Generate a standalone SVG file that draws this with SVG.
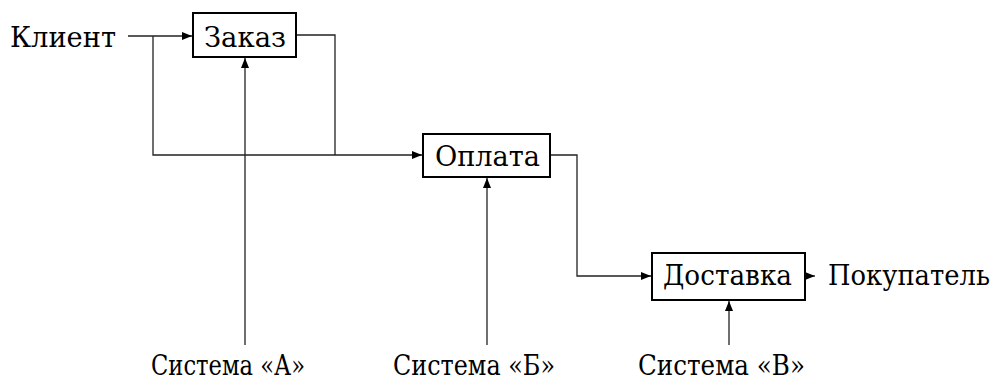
<svg xmlns="http://www.w3.org/2000/svg" width="996" height="381" viewBox="0 0 996 381">
<defs>
<marker id="ah" viewBox="0 0 10 8" refX="10" refY="4" markerWidth="10" markerHeight="8" markerUnits="userSpaceOnUse" orient="auto">
<path d="M0,0 L10,4 L0,8 Z" fill="#000"/>
</marker>
</defs>
<style>
.box{fill:#fff;stroke:#000;stroke-width:2}
.c{fill:none;stroke:#222;stroke-width:1.3}
</style>
<rect width="996" height="381" fill="#fff"/>
<g id="connectors">
<polyline class="c" points="128,36 192,36" marker-end="url(#ah)"/>
<polyline class="c" points="153,36 153,155 422,155" marker-end="url(#ah)"/>
<polyline class="c" points="296,35 335,35 335,155"/>
<polyline class="c" points="550,155 577,155 577,276 651,276" marker-end="url(#ah)"/>
<polyline class="c" points="805,276 815,276" marker-end="url(#ah)"/>
<polyline class="c" points="245,345 245,58" marker-end="url(#ah)"/>
<polyline class="c" points="487,345 487,178" marker-end="url(#ah)"/>
<polyline class="c" points="729,345 729,301" marker-end="url(#ah)"/>
</g>
<g font-family="'DejaVu Serif', serif" font-size="27" fill="#000">
<g id="klient"><text x="10" y="47" textLength="106" lengthAdjust="spacingAndGlyphs">Клиент</text></g>
<g id="zakaz">
<rect class="box" x="193" y="13" width="103" height="44"/>
<text x="204" y="47" textLength="82" lengthAdjust="spacingAndGlyphs">Заказ</text>
</g>
<g id="oplata">
<rect class="box" x="423" y="134" width="127" height="43"/>
<text x="435" y="166" textLength="105" lengthAdjust="spacingAndGlyphs">Оплата</text>
</g>
<g id="dostavka">
<rect class="box" x="652" y="253" width="153" height="47"/>
<text x="663" y="285" textLength="129" lengthAdjust="spacingAndGlyphs">Доставка</text>
</g>
<g id="pokupatel"><text x="828" y="285" textLength="162" lengthAdjust="spacingAndGlyphs">Покупатель</text></g>
<g id="sysA"><text x="151" y="375" textLength="154" lengthAdjust="spacingAndGlyphs">Система «А»</text></g>
<g id="sysB"><text x="393" y="375" textLength="162" lengthAdjust="spacingAndGlyphs">Система «Б»</text></g>
<g id="sysV"><text x="638" y="375" textLength="167" lengthAdjust="spacingAndGlyphs">Система «В»</text></g>
</g>
</svg>
